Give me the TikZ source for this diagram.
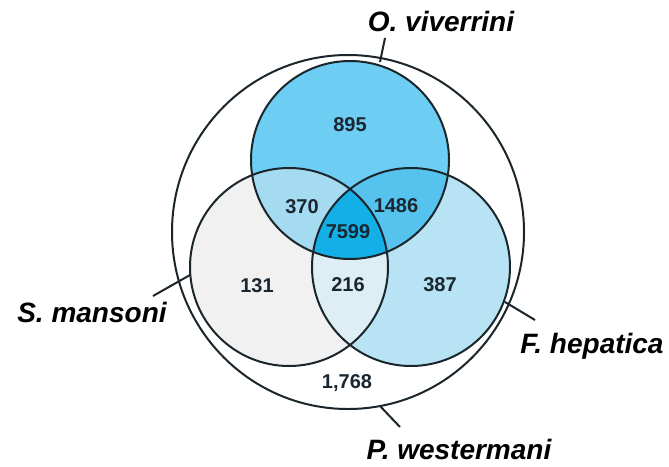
\documentclass[tikz,border=0pt]{standalone}
\usepackage{fontspec}
\setmainfont{Liberation Sans}
\definecolor{edge}{HTML}{1B262C}
\definecolor{numc}{HTML}{1A2630}
\definecolor{cTop}{HTML}{6DCDF2}
\definecolor{cRight}{HTML}{B8E3F5}
\definecolor{cLeft}{HTML}{F1F1F1}
\definecolor{cTL}{HTML}{A5DBF0}
\definecolor{cTR}{HTML}{55C3EE}
\definecolor{cLR}{HTML}{DDEEF5}
\definecolor{cAll}{HTML}{12B0E6}
\begin{document}
\begin{tikzpicture}[x=1pt,y=-1pt,
  ring/.style={draw=edge,line width=2pt},
  num/.style={font=\bfseries\fontsize{20}{20}\selectfont, text=numc, inner sep=0pt},
  lab/.style={font=\bfseries\itshape\fontsize{28}{28}\selectfont, text=black, inner sep=0pt},
  tickline/.style={draw=edge,line width=2pt}]
\useasboundingbox (0,0) rectangle (669,466);
\fill[white] (0,0) rectangle (669,466);
\coordinate (cO) at (348,232);
\coordinate (cT) at (350,160);
\coordinate (cL) at (289,267);
\coordinate (cR) at (411,267);
% base fills
\fill[cLeft] (cL) circle[radius=99pt];
\fill[cRight] (cR) circle[radius=99pt];
\fill[cTop] (cT) circle[radius=99pt];
\begin{scope}
  \clip (cL) circle[radius=99pt];
  \fill[cLR] (cR) circle[radius=99pt];
\end{scope}
\begin{scope}
  \clip (cT) circle[radius=99pt];
  \fill[cTL] (cL) circle[radius=99pt];
  \fill[cTR] (cR) circle[radius=99pt];
  \clip (cL) circle[radius=99pt];
  \fill[cAll] (cR) circle[radius=99pt];
\end{scope}
% outlines
\draw[ring] (cO) ellipse[x radius=176pt, y radius=177pt];
\draw[ring] (cL) circle[radius=99pt];
\draw[ring] (cR) circle[radius=99pt];
\draw[ring] (cT) circle[radius=99pt];
% numbers
\node[num] (n895) at (350,125) {895};
\node[num] (n370) at (302,207) {370};
\node[num] (n1486) at (396,206) {1486};
\node[num] (n7599) at (348,232) {7599};
\node[num] (n131) at (257,286) {131};
\node[num] (n216) at (348,285) {216};
\node[num] (n387) at (440,285) {387};
\node[num] (n1768) at (347,383) {1,768};
% labels
\node[lab] (lO) at (441,21) {O. viverrini};
\node[lab] (lS) at (92,312) {S. mansoni};
\node[lab] (lF) at (592,346) {F. hepatica};
\node[lab] (lP) at (459,449) {P. westermani};
% ticks
\coordinate (oa) at (380,62);
\coordinate (ob) at (385,38);
\coordinate (sa) at (190,275);
\coordinate (sb) at (153,296);
\coordinate (fa) at (505,302);
\coordinate (fb) at (535,320);
\coordinate (pa) at (380,406);
\coordinate (pb) at (400,427);
\draw[tickline] (oa) -- (ob);
\draw[tickline] (sa) -- (sb);
\draw[tickline] (fa) -- (fb);
\draw[tickline] (pa) -- (pb);
\end{tikzpicture}
\end{document}
